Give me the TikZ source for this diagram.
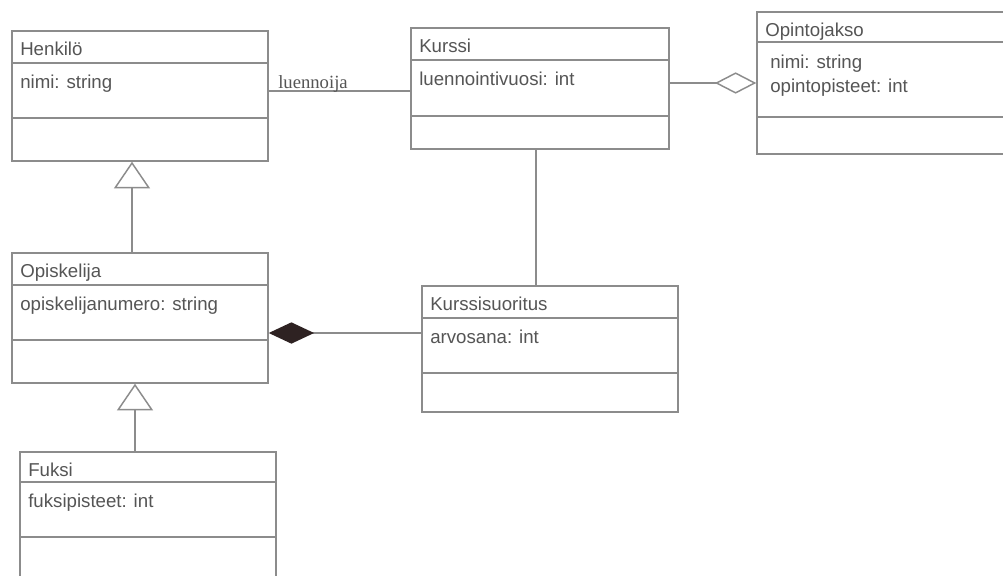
\documentclass[tikz,border=0pt]{standalone}
\usepackage{fontspec}
\setmainfont{Liberation Sans}
\newfontfamily\rolefont{Liberation Serif}
\usetikzlibrary{arrows.meta, fit}
\definecolor{uline}{HTML}{8C8C8C}
\definecolor{utext}{HTML}{555555}
\definecolor{ufill}{HTML}{2E2222}
\tikzset{
  font=\fontsize{14}{18}\selectfont,
  cls/.style={draw=uline, line width=1.1pt, inner sep=0pt},
  sep/.style={draw=uline, line width=1.1pt},
  clsname/.style={anchor=base west, inner sep=0pt, text=utext},
  clsattr/.style={anchor=base west, inner sep=0pt, text=utext},
  assoc/.style={draw=uline, line width=1.1pt},
  inherit/.style={assoc, -{Triangle[open, length=20pt, width=27pt]}},
  aggr/.style={assoc, -{Diamond[open, length=31pt, width=16pt]}},
  compo/.style={assoc, -{Diamond[color=ufill, length=34pt, width=16pt]}},
  rolelab/.style={anchor=base west, inner sep=0pt, text=utext,
    font=\rolefont\fontsize{14}{18}\selectfont}
}
\begin{document}
\begin{tikzpicture}[x=0.75pt, y=-0.75pt]
  \path[fill=white, use as bounding box] (0,0) rectangle (1003,575);

  \node[cls, fit={(12,31) (268,161)}] (henkilo) {};
  \draw[sep] (henkilo.west |- 0,63) -- (henkilo.east |- 0,63);
  \draw[sep] (henkilo.west |- 0,118) -- (henkilo.east |- 0,118);
  \node[clsname] (henkilo-n) at (20,55) {Henkilö};
  \node[clsattr] (henkilo-a) at (20,88) {nimi: string};

  \node[cls, fit={(411,28) (669,149)}] (kurssi) {};
  \draw[sep] (kurssi.west |- 0,60) -- (kurssi.east |- 0,60);
  \draw[sep] (kurssi.west |- 0,116) -- (kurssi.east |- 0,116);
  \node[clsname] (kurssi-n) at (419,52) {Kurssi};
  \node[clsattr] (kurssi-a) at (419,85) {luennointivuosi: int};

  \node[cls, fit={(757,12) (1012,154)}] (opintojakso) {};
  \draw[sep] (opintojakso.west |- 0,42) -- (opintojakso.east |- 0,42);
  \draw[sep] (opintojakso.west |- 0,117) -- (opintojakso.east |- 0,117);
  \node[clsname] (opintojakso-n) at (765,36) {Opintojakso};
  \node[clsattr] (opintojakso-a1) at (770,68) {nimi: string};
  \node[clsattr] (opintojakso-a2) at (770,92) {opintopisteet: int};

  \node[cls, fit={(12,253) (268,383)}] (opiskelija) {};
  \draw[sep] (opiskelija.west |- 0,285) -- (opiskelija.east |- 0,285);
  \draw[sep] (opiskelija.west |- 0,340) -- (opiskelija.east |- 0,340);
  \node[clsname] (opiskelija-n) at (20,277) {Opiskelija};
  \node[clsattr] (opiskelija-a) at (20,310) {opiskelijanumero: string};

  \node[cls, fit={(422,286) (678,412)}] (suoritus) {};
  \draw[sep] (suoritus.west |- 0,318) -- (suoritus.east |- 0,318);
  \draw[sep] (suoritus.west |- 0,373) -- (suoritus.east |- 0,373);
  \node[clsname] (suoritus-n) at (430,310) {Kurssisuoritus};
  \node[clsattr] (suoritus-a) at (430,343) {arvosana: int};

  \node[cls, fit={(20,452) (276,592)}] (fuksi) {};
  \draw[sep] (fuksi.west |- 0,482) -- (fuksi.east |- 0,482);
  \draw[sep] (fuksi.west |- 0,537) -- (fuksi.east |- 0,537);
  \node[clsname] (fuksi-n) at (28,476) {Fuksi};
  \node[clsattr] (fuksi-a) at (28,507) {fuksipisteet: int};

  \draw[assoc] (henkilo.east |- 0,91) -- (kurssi.west |- 0,91);
  \node[rolelab] (luennoija) at (278,88) {luennoija};
  \draw[aggr] (kurssi.east |- 0,83) -- (opintojakso.west |- 0,83);
  \draw[assoc] (kurssi.south -| 536,0) -- (suoritus.north -| 536,0);
  \draw[compo] (suoritus.west |- 0,333) -- (opiskelija.east |- 0,333);
  \draw[inherit] (opiskelija.north -| 132,0) -- (henkilo.south -| 132,0);
  \draw[inherit] (fuksi.north -| 135,0) -- (opiskelija.south -| 135,0);
\end{tikzpicture}
\end{document}
